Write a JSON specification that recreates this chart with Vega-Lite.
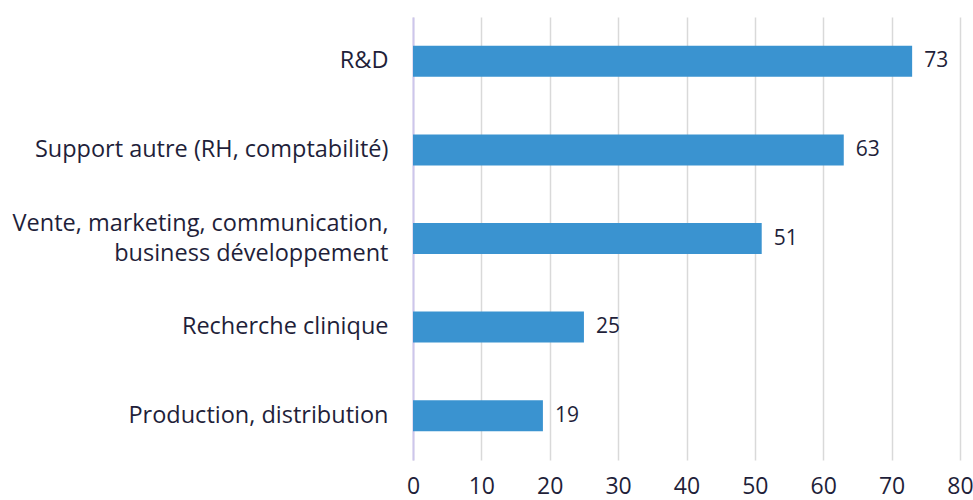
{
  "$schema": "https://vega.github.io/schema/vega-lite/v6.json",
  "width": 547,
  "height": 443,
  "autosize": {"type": "none"},
  "padding": {"left": 413, "top": 17, "right": 13, "bottom": 40},
  "background": "white",
  "config": {"view": {"stroke": null}, "font": "Open Sans"},
  "data": {"values": [
    {"cat": "R&D", "val": 73},
    {"cat": "Support autre (RH, comptabilité)", "val": 63},
    {"cat": "Vente, marketing, communication,|business développement", "val": 51},
    {"cat": "Recherche clinique", "val": 25},
    {"cat": "Production, distribution", "val": 19}
  ]},
  "encoding": {
    "y": {"field": "cat", "type": "nominal", "sort": null,
      "scale": {"paddingInner": 0.65, "paddingOuter": 0.325},
      "axis": {"title": null, "labelExpr": "split(datum.value, '|')", "labelFontSize": 23.5, "labelColor": "#1f1f3a", "labelPadding": 25, "ticks": false, "domainColor": "#cdc6ec", "domainWidth": 2, "labelLineHeight": 30, "labelLimit": 420,
        "labelOffset": {"condition": {"test": "indexof(datum.value, '|') >= 0", "value": -15}, "value": 0}}},
    "x": {"field": "val", "type": "quantitative",
      "scale": {"domain": [0, 80], "nice": false},
      "axis": {"title": null, "values": [0,10,20,30,40,50,60,70,80], "labelFlush": false, "labelOverlap": false, "labelFontSize": 23, "labelColor": "#1f1f3a", "labelPadding": 15, "ticks": false, "domain": false, "gridColor": "#d9d9d9", "gridWidth": 1.5}}
  },
  "layer": [
    {"mark": {"type": "bar", "color": "#3a93d0"}},
    {"mark": {"type": "text", "align": "left", "dx": 12, "fontSize": 21, "color": "#1f1f3a"}, "encoding": {"text": {"field": "val", "type": "quantitative"}}}
  ]
}
